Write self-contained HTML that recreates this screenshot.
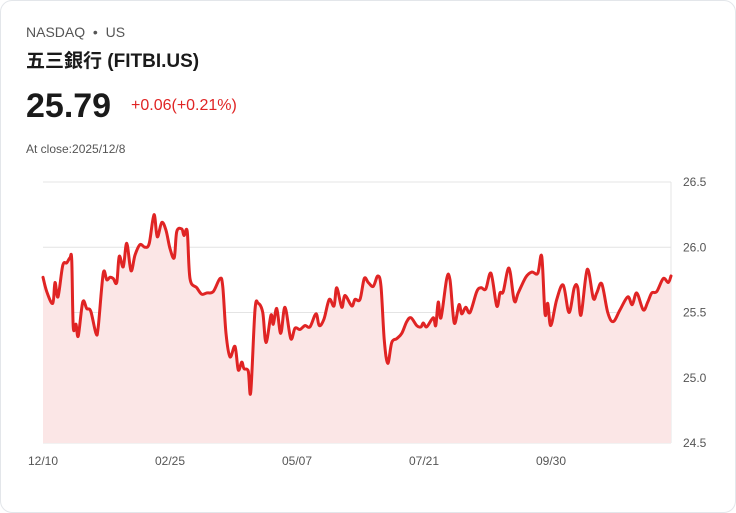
<!DOCTYPE html>
<html><head><meta charset="utf-8"><style>
body{margin:0;background:#fff;font-family:"Liberation Sans","Noto Sans CJK TC",sans-serif;}
.card{position:absolute;left:0;top:0;width:734px;height:511px;border:1px solid #e3e6ea;border-radius:12px;background:#fff;}
.t{position:absolute;white-space:nowrap;}
</style></head><body>
<div class="card">
<div class="t" style="left:25px;top:23px;font-size:14px;color:#555;">NASDAQ&nbsp; • &nbsp;US</div>
<div class="t" style="left:25px;top:45px;font-size:19px;font-weight:bold;color:#1a1a1a;">五三銀行 (FITBI.US)</div>
<div class="t" style="left:25px;top:86px;font-size:34px;font-weight:bold;color:#1a1a1a;">25.79</div>
<div class="t" style="left:130px;top:96px;font-size:16px;color:#e02424;">+0.06(+0.21%)</div>
<div class="t" style="left:25px;top:141px;font-size:12px;color:#555;">At close:2025/12/8</div>
<svg id="chart" width="736" height="513" style="position:absolute;left:-1px;top:-1px;"></svg>
</div>
<script>
const days=[0,1.5,3.9,4.8,6,7.9,9.5,10.8,11.5,12.1,13.2,14.1,15.9,17.5,19.1,21.2,22.1,24.1,25.5,26.8,28.1,29.5,30.5,32.1,33.5,35.2,36.8,38.8,40.8,42.5,44.4,45.7,47.5,49.2,50.8,52.5,53.5,55.5,56.4,57.7,58.8,61.5,63.5,65.5,68.1,70.8,71.9,73.2,74.8,76.8,78.1,79.5,80.4,82.1,83.1,84.8,86.1,87.9,89.2,91.2,92.1,93.5,95.1,96.8,99.1,100.8,102.8,104.8,106.8,109.2,110.5,112.4,114.5,116.4,117.5,119.5,120.8,123.5,124.8,126.8,128.5,130.1,132.1,133.9,135.2,136.5,137.9,139.5,141.5,143.5,145.5,147.2,149.5,151.2,152.1,153.5,156.1,157.1,158.1,159.2,161.5,162.8,164.5,166.4,167.5,169.1,170.8,173.5,175.2,177.1,179.2,181.5,182.8,184.1,186.4,188.5,190.1,193.1,195.5,197.9,199.5,200.8,201.9,203.1,205.5,208.1,210.4,212.5,213.9,215.2,217.7,220.1,221.5,223.5,225.9,228.1,230.8,233.9,235.7,237.5,240.1,241.9,243.5,245.5,248.1,250.1,251.2];
const prices=[25.77,25.66,25.57,25.73,25.62,25.86,25.88,25.92,25.90,25.39,25.41,25.32,25.58,25.53,25.51,25.34,25.39,25.80,25.75,25.77,25.76,25.73,25.93,25.85,26.03,25.82,25.94,26.02,26.00,26.03,26.25,26.08,26.19,26.13,25.99,25.92,26.12,26.14,26.09,26.12,25.76,25.69,25.64,25.65,25.66,25.76,25.70,25.34,25.16,25.24,25.06,25.12,25.07,25.05,24.89,25.52,25.57,25.50,25.27,25.48,25.41,25.53,25.34,25.54,25.30,25.38,25.37,25.40,25.39,25.49,25.40,25.45,25.60,25.55,25.69,25.54,25.63,25.55,25.60,25.60,25.76,25.73,25.70,25.78,25.70,25.29,25.11,25.27,25.30,25.34,25.43,25.46,25.40,25.39,25.42,25.39,25.46,25.40,25.58,25.46,25.76,25.75,25.42,25.56,25.49,25.54,25.50,25.66,25.69,25.68,25.80,25.55,25.65,25.66,25.84,25.59,25.65,25.77,25.81,25.80,25.93,25.49,25.57,25.40,25.60,25.71,25.50,25.69,25.69,25.48,25.83,25.61,25.65,25.72,25.50,25.43,25.52,25.62,25.56,25.65,25.52,25.58,25.65,25.66,25.76,25.73,25.78];
const yTicks=[24.5,25.0,25.5,26.0,26.5];
const xTickDays=[0,50.8,101.6,152.4,203.2];
const xTickLabels=['12/10','02/25','05/07','07/21','09/30'];
const svg=document.getElementById('chart');const NS='http://www.w3.org/2000/svg';
const X0=43,X1=671,Y0=443,Y1=182,DMAX=251.2;
const xs=d=>X0+(d/DMAX)*(X1-X0);
const ys=v=>Y0-(v-24.5)/2*(Y0-Y1);
function mk(t,a){const e=document.createElementNS(NS,t);for(const k in a)e.setAttribute(k,a[k]);svg.appendChild(e);return e;}
yTicks.forEach(v=>{const l=mk('line',{x1:X0,x2:X1,y1:ys(v),y2:ys(v),stroke:'#e4e4e4','stroke-width':1});


const t=mk('text',{x:683,y:ys(v)+4,'font-size':12,fill:'#555','font-family':'Liberation Sans, sans-serif'});t.textContent=v.toFixed(1);

});
const ax=mk('line',{x1:X1,x2:X1,y1:Y1,y2:Y0,stroke:'#e4e4e4','stroke-width':1});


xTickDays.forEach((d,i)=>{const t=mk('text',{x:xs(d),y:465,'font-size':12,fill:'#555','text-anchor':'middle','font-family':'Liberation Sans, sans-serif'});t.textContent=xTickLabels[i];

});
const P=days.map((d,i)=>[xs(d),ys(prices[i])]);
let path='M'+P[0][0]+','+P[0][1];
for(let i=0;i<P.length-1;i++){const p0=P[Math.max(0,i-1)],p1=P[i],p2=P[i+1],p3=P[Math.min(P.length-1,i+2)];const k=1/6;
path+=' C'+(p1[0]+(p2[0]-p0[0])*k)+','+(p1[1]+(p2[1]-p0[1])*k)+' '+(p2[0]-(p3[0]-p1[0])*k)+','+(p2[1]-(p3[1]-p1[1])*k)+' '+p2[0]+','+p2[1];}
const area=mk('path',{d:path+' L'+P[P.length-1][0]+','+Y0+' L'+P[0][0]+','+Y0+' Z',fill:'#fbe6e6'});


const line=mk('path',{d:path,fill:'none',stroke:'#e02424','stroke-width':3,'stroke-linejoin':'round','stroke-linecap':'round'});


</script>
</body></html>
